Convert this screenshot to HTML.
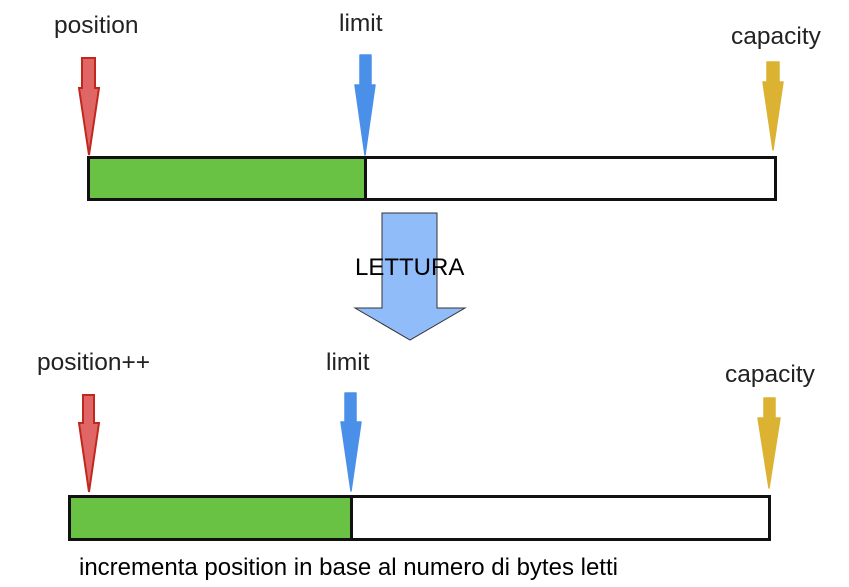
<!DOCTYPE html>
<html><head><meta charset="utf-8"><style>
html,body{margin:0;padding:0;background:#fff;width:849px;height:587px;overflow:hidden}
svg{display:block}
.h{font-family:"Liberation Sans",sans-serif;font-size:24.5px;fill:#222}
</style></head><body>
<svg width="849" height="587" viewBox="0 0 849 587">
<text class="h" x="54" y="33">position</text>
<text class="h" x="339" y="31">limit</text>
<text class="h" x="731" y="44">capacity</text>
<polygon points="82,58 95,58 95,88 99,88 89,155 79,88 82,88" fill="#e06666" stroke="#c0281e" stroke-width="2"/>
<polygon points="360,55 371,55 371,85 375,85 365,155 355,85 360,85" fill="#4a90e8" stroke="#4a90e8" stroke-width="1.5" stroke-linejoin="round"/>
<polygon points="767,62 779,62 779,82 783,82 773,150 763,82 767,82" fill="#dcb232" stroke="#dcb232" stroke-width="1.5" stroke-linejoin="round"/>
<rect x="88.5" y="157.5" width="687" height="42" fill="#fff" stroke="#111" stroke-width="3"/>
<rect x="88.5" y="157.5" width="277" height="42" fill="#6ac244" stroke="#111" stroke-width="3"/>
<polygon points="382,213 437,213 437,308 465,308 410,340 355,308 382,308" fill="#90bcfa" stroke="#333" stroke-width="1"/>
<text x="355" y="275" style="font-family:'Liberation Sans',sans-serif;font-size:24px;fill:#000">LETTURA</text>
<text class="h" x="37" y="370">position++</text>
<text class="h" x="326" y="370">limit</text>
<text class="h" x="725" y="382">capacity</text>
<polygon points="83,395 94,395 94,423 99,423 89,492 79,423 83,423" fill="#e06666" stroke="#c0281e" stroke-width="2"/>
<polygon points="345,393 356,393 356,422 361,422 351,491 341,422 345,422" fill="#4a90e8" stroke="#4a90e8" stroke-width="1.5" stroke-linejoin="round"/>
<polygon points="764,398 775,398 775,418 780,418 769,488 758,418 764,418" fill="#dcb232" stroke="#dcb232" stroke-width="1.5" stroke-linejoin="round"/>
<rect x="69.5" y="496.5" width="700" height="43" fill="#fff" stroke="#111" stroke-width="3"/>
<rect x="69.5" y="496.5" width="282" height="43" fill="#6ac244" stroke="#111" stroke-width="3"/>
<text x="79" y="575" style="font-family:'Liberation Sans',sans-serif;font-size:24px;fill:#000">incrementa position in base al numero di bytes letti</text>
</svg>
</body></html>
